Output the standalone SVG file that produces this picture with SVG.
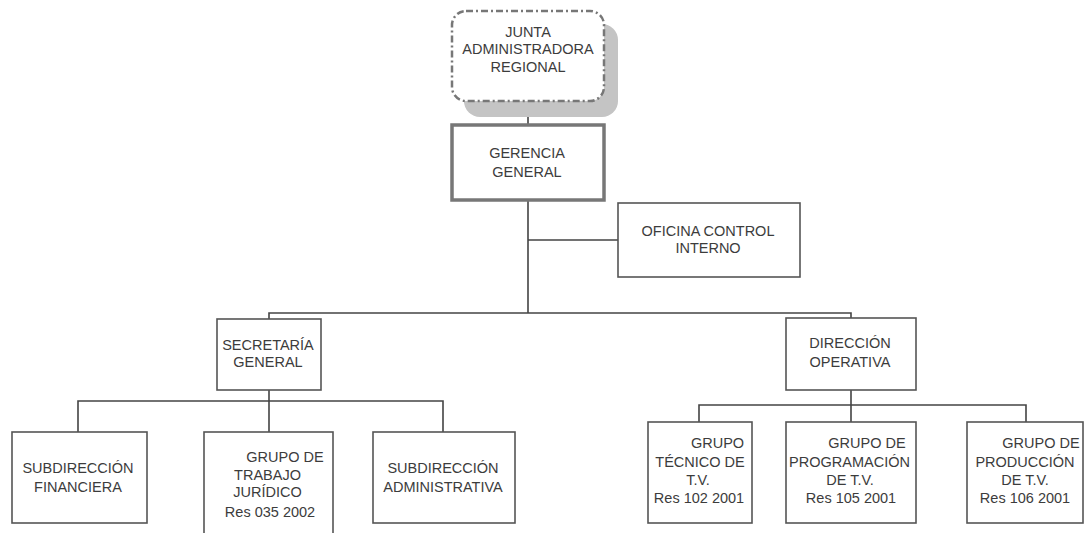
<svg xmlns="http://www.w3.org/2000/svg" width="1085" height="533" viewBox="0 0 1085 533">
<style>
.box{fill:#fff;stroke:#555;stroke-width:1.6}
.t{font-family:"Liberation Sans",Arial,sans-serif;font-size:14.5px;fill:#3c3c3c;text-anchor:middle}
.c{fill:none;stroke:#444;stroke-width:1.6}
</style>
<rect width="1085" height="533" fill="#fff"/>
<g id="connectors">
<path class="c" d="M528 100V124M528 201V313M528 240H618"/>
<path class="c" d="M269 319V313H851V318"/>
<path class="c" d="M269 390V401M78 432V401H443V432M269 401V432"/>
<path class="c" d="M851 390V405M699 422V405H1026V422M851 405V422"/>
</g>
<g id="junta">
<rect x="464" y="24" width="154" height="93" rx="16" fill="#c4c4c4"/>
<rect x="452" y="11" width="152" height="90" rx="14" fill="#fff" stroke="#777" stroke-width="2.5" stroke-dasharray="7 3 2 3"/>
<text class="t" x="528" y="37">JUNTA</text>
<text class="t" x="528" y="54">ADMINISTRADORA</text>
<text class="t" x="528" y="72">REGIONAL</text>
</g>
<g id="gerencia">
<rect x="452" y="125" width="152" height="75" fill="#fff" stroke="#777" stroke-width="3.5"/>
<text class="t" x="527" y="158">GERENCIA</text>
<text class="t" x="527" y="177">GENERAL</text>
</g>
<g id="oficina">
<rect class="box" x="618" y="203" width="182" height="74"/>
<text class="t" x="708" y="236">OFICINA CONTROL</text>
<text class="t" x="708" y="253">INTERNO</text>
</g>
<g id="secretaria">
<rect class="box" x="217" y="319" width="104" height="71"/>
<text class="t" x="268" y="350">SECRETARÍA</text>
<text class="t" x="268" y="367">GENERAL</text>
</g>
<g id="direccion">
<rect class="box" x="786" y="318" width="130" height="72"/>
<text class="t" x="850" y="348">DIRECCIÓN</text>
<text class="t" x="850" y="367">OPERATIVA</text>
</g>
<g id="financiera">
<rect class="box" x="12" y="432" width="135" height="91"/>
<text class="t" x="78" y="473">SUBDIRECCIÓN</text>
<text class="t" x="78" y="492">FINANCIERA</text>
</g>
<g id="juridico">
<rect class="box" x="204" y="432" width="129" height="110"/>
<text class="t" x="285" y="462">GRUPO DE</text>
<text class="t" x="267.5" y="480">TRABAJO</text>
<text class="t" x="267.5" y="497">JURÍDICO</text>
<text class="t" x="270" y="517">Res 035 2002</text>
</g>
<g id="administrativa">
<rect class="box" x="373" y="432" width="142" height="91"/>
<text class="t" x="443" y="473">SUBDIRECCIÓN</text>
<text class="t" x="443" y="492">ADMINISTRATIVA</text>
</g>
<g id="tecnico">
<rect class="box" x="648" y="422" width="104" height="101"/>
<text class="t" x="717.5" y="448">GRUPO</text>
<text class="t" x="700" y="467">TÉCNICO DE</text>
<text class="t" x="698" y="485">T.V.</text>
<text class="t" x="699" y="503">Res 102 2001</text>
</g>
<g id="programacion">
<rect class="box" x="786" y="422" width="130" height="101"/>
<text class="t" x="867" y="448">GRUPO DE</text>
<text class="t" x="849.5" y="467">PROGRAMACIÓN</text>
<text class="t" x="850" y="485">DE T.V.</text>
<text class="t" x="851" y="503">Res 105 2001</text>
</g>
<g id="produccion">
<rect class="box" x="967" y="422" width="116" height="101"/>
<text class="t" x="1041" y="448">GRUPO DE</text>
<text class="t" x="1025" y="467">PRODUCCIÓN</text>
<text class="t" x="1025" y="485">DE T.V.</text>
<text class="t" x="1025" y="503">Res 106 2001</text>
</g>
</svg>
